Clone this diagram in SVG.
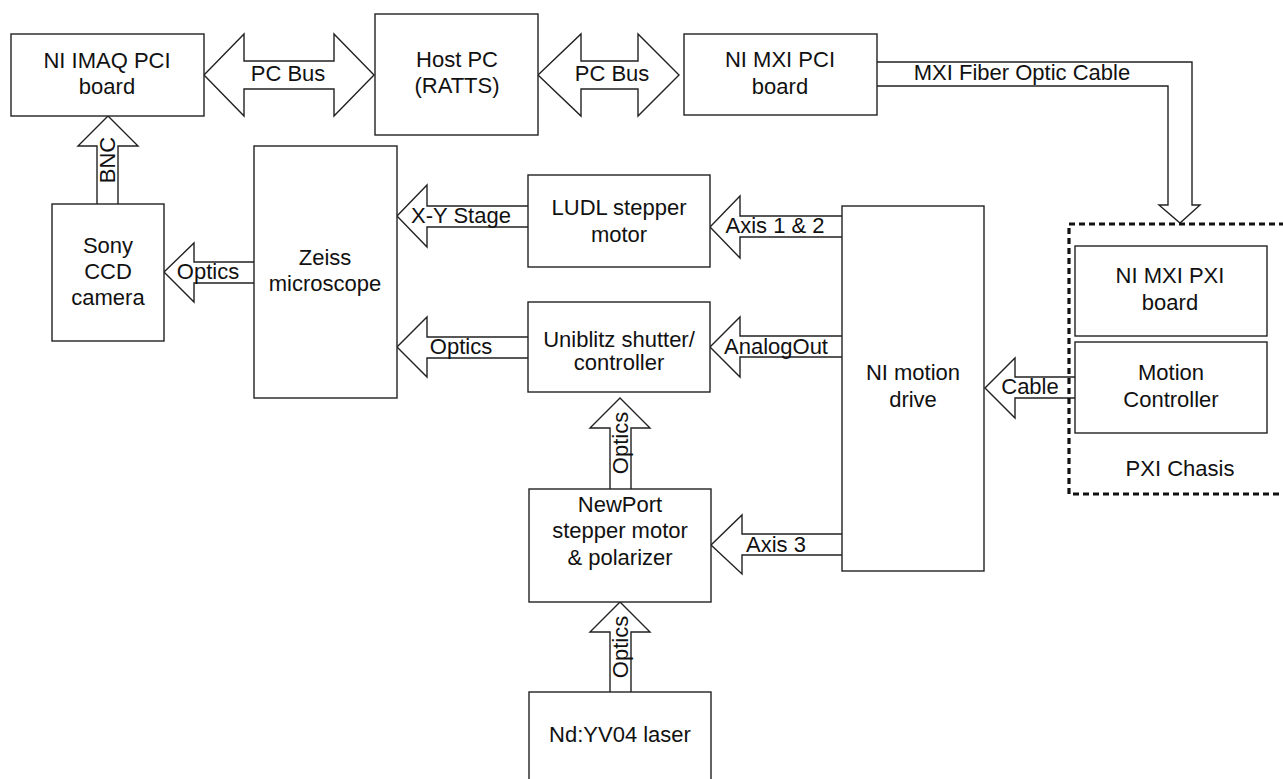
<svg xmlns="http://www.w3.org/2000/svg" width="1283" height="779" viewBox="0 0 1283 779">
<style>
.box{fill:#fff;stroke:#222;stroke-width:1.4}
.arr{fill:#fff;stroke:#222;stroke-width:1.4;stroke-linejoin:miter}
text{font-family:"Liberation Sans",Arial,sans-serif;font-size:22px;fill:#111;text-anchor:middle}
.dash{fill:none;stroke:#111;stroke-width:3.2;stroke-dasharray:6 4}
</style>
<rect width="1283" height="779" fill="#fff"/>
<g id="connectors">
<path class="arr" d="M204,75 L244,34 V61 H334 V34 L374,75 L334,116 V89 H244 V116 Z"/>
<text x="288" y="81">PC Bus</text>
<path class="arr" d="M538,75 L581,34 V61 H638 V34 L679,75 L638,116 V89 H581 V116 Z"/>
<text x="612" y="81">PC Bus</text>
<path class="arr" d="M877,62 H1192 V205 H1200 L1180,223 L1159,205 H1168 V86 H877"/>
<text x="1022" y="80">MXI Fiber Optic Cable</text>
<path class="arr" d="M97,204 V146 H78 L108,116 L138,146 H118 V204"/>
<text transform="translate(115,160) rotate(-90)">BNC</text>
<path class="arr" d="M254,262 H194 V243 L164,272 L194,302 V283 H254"/>
<text x="208" y="279">Optics</text>
<path class="arr" d="M528,206 H427 V185 L397,216 L427,247 V227 H528"/>
<text x="461" y="223">X-Y Stage</text>
<path class="arr" d="M842,216 H740 V196 L710,227 L740,258 V237 H842"/>
<text x="775" y="233">Axis 1 &amp; 2</text>
<path class="arr" d="M528,337 H427 V317 L397,347 L427,377 V358 H528"/>
<text x="461" y="354">Optics</text>
<path class="arr" d="M842,336 H740 V317 L710,347 L740,377 V357 H842"/>
<text x="776" y="354">AnalogOut</text>
<path class="arr" d="M1075,377 H1015 V358 L985,388 L1015,418 V398 H1075"/>
<text x="1030" y="394">Cable</text>
<path class="arr" d="M610,489 V428 H590 L620,398 L650,428 H631 V489"/>
<text transform="translate(628,443) rotate(-90)">Optics</text>
<path class="arr" d="M842,534 H742 V515 L711,545 L742,574 V555 H842"/>
<text x="776" y="552">Axis 3</text>
<path class="arr" d="M610,692 V632 H590 L620,602 L650,632 H631 V692"/>
<text transform="translate(628,647) rotate(-90)">Optics</text>
</g>
<g id="pxi-chasis">
<rect class="dash" x="1069" y="224" width="230" height="270"/>
<text x="1180" y="476">PXI Chasis</text>
</g>
<g id="ni-imaq">
<rect class="box" x="11" y="34" width="193" height="82"/>
<text x="107" y="68">NI IMAQ PCI</text>
<text x="107" y="94">board</text>
</g>
<g id="host-pc">
<rect class="box" x="375" y="14" width="163" height="121"/>
<text x="457" y="67">Host PC</text>
<text x="457" y="93">(RATTS)</text>
</g>
<g id="ni-mxi-pci">
<rect class="box" x="684" y="34" width="193" height="81"/>
<text x="780" y="67">NI MXI PCI</text>
<text x="780" y="94">board</text>
</g>
<g id="sony-ccd">
<rect class="box" x="52" y="204" width="112" height="137"/>
<text x="108" y="253">Sony</text>
<text x="108" y="279">CCD</text>
<text x="108" y="305">camera</text>
</g>
<g id="zeiss">
<rect class="box" x="254" y="146" width="143" height="252"/>
<text x="325" y="265">Zeiss</text>
<text x="325" y="291">microscope</text>
</g>
<g id="ludl">
<rect class="box" x="528" y="175" width="182" height="92"/>
<text x="619" y="215">LUDL stepper</text>
<text x="619" y="242">motor</text>
</g>
<g id="uniblitz">
<rect class="box" x="528" y="302" width="182" height="90"/>
<text x="619" y="347">Uniblitz shutter/</text>
<text x="619" y="370">controller</text>
</g>
<g id="ni-motion-drive">
<rect class="box" x="842" y="206" width="142" height="365"/>
<text x="913" y="380">NI motion</text>
<text x="913" y="407">drive</text>
</g>
<g id="ni-mxi-pxi">
<rect class="box" x="1075" y="246" width="192" height="90"/>
<text x="1170" y="283">NI MXI PXI</text>
<text x="1170" y="310">board</text>
</g>
<g id="motion-controller">
<rect class="box" x="1075" y="342" width="192" height="91"/>
<text x="1171" y="380">Motion</text>
<text x="1171" y="407">Controller</text>
</g>
<g id="newport">
<rect class="box" x="529" y="489" width="182" height="113"/>
<text x="620" y="512">NewPort</text>
<text x="620" y="538">stepper motor</text>
<text x="620" y="565">&amp; polarizer</text>
</g>
<g id="laser">
<rect class="box" x="529" y="692" width="182" height="100"/>
<text x="620" y="742">Nd:YV04 laser</text>
</g>
</svg>
